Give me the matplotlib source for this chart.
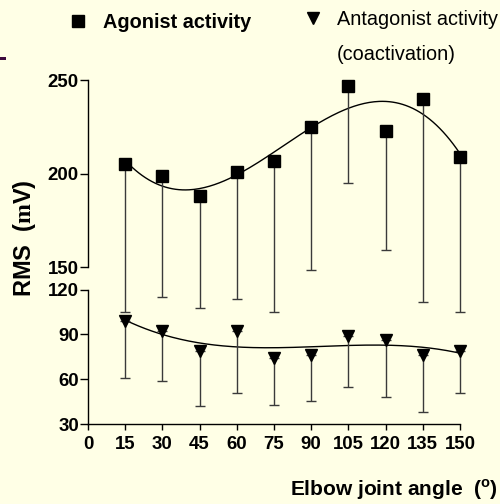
import numpy as np
import matplotlib
matplotlib.use("Agg")
import matplotlib.pyplot as plt
from matplotlib.patches import Rectangle

# Elbow angle (deg) and RMS EMG values
angles = [15, 30, 45, 60, 75, 90, 105, 120, 135, 150]
agonist = [205, 199, 188, 201, 207, 225, 247, 223, 240, 209]
agonist_sd = [100, 84, 80, 87, 102, 79, 52, 64, 128, 104]
antagonist = [99, 92, 79, 92, 74, 76.5, 89, 86, 76, 79]
antagonist_sd = [38, 33, 37, 41, 31, 31, 34, 38, 38, 28]

series_names = ["Agonist activity", "Antagonist activity\n(coactivation)"]
x_ticks = [0, 15, 30, 45, 60, 75, 90, 105, 120, 135, 150]
y_ticks = [30, 60, 90, 120, 150, 200, 250]

BG = "#FFFFE6"
plt.rcParams["font.family"] = ["Liberation Sans", "DejaVu Sans"]
plt.rcParams["mathtext.fontset"] = "custom"
plt.rcParams["mathtext.rm"] = "Liberation Serif:bold"
plt.rcParams["mathtext.sf"] = "Liberation Sans:bold"

# broken y axis: 30-120 lower segment, gap, 150-250 upper segment
BRK = np.array([30.0, 120.0, 150.0, 250.0])
POS = np.array([0.0, 134.4, 156.7, 344.0])
S_LO = (POS[1] - POS[0]) / (BRK[1] - BRK[0])
S_HI = (POS[3] - POS[2]) / (BRK[3] - BRK[2])


def fwd(v):
    v = np.asarray(v, dtype=float)
    out = np.interp(v, BRK, POS)
    out = out + np.where(v < BRK[0], (v - BRK[0]) * S_LO, 0.0)
    out = out + np.where(v > BRK[-1], (v - BRK[-1]) * S_HI, 0.0)
    return out


def inv(p):
    p = np.asarray(p, dtype=float)
    out = np.interp(p, POS, BRK)
    out = out + np.where(p < POS[0], (p - POS[0]) / S_LO, 0.0)
    out = out + np.where(p > POS[-1], (p - POS[-1]) / S_HI, 0.0)
    return out


fig = plt.figure(figsize=(5, 5.04), dpi=100, facecolor=BG)
ax = fig.add_axes([0.176, 0.1587, 0.744, 0.6825], facecolor=BG)
ax.set_yscale("function", functions=(fwd, inv))

ag = ax.errorbar(angles, agonist, yerr=[agonist_sd, np.zeros(len(angles))],
                 fmt="s", ms=8, mfc="black", mec="black", ecolor="#3a3a3a",
                 elinewidth=1.0, capsize=3.6, capthick=1.0, clip_on=False,
                 zorder=3)
an = ax.errorbar(angles, antagonist, yerr=[antagonist_sd, np.zeros(len(angles))],
                 fmt="v", ms=9, mfc="black", mec="black", ecolor="#3a3a3a",
                 elinewidth=1.0, capsize=3.6, capthick=1.0, clip_on=False,
                 zorder=3)

# cubic fits through each series
xf = np.linspace(angles[0], angles[-1], 200)
ax.plot(xf, np.polyval(np.polyfit(angles, agonist, 3), xf), color="black", lw=1.0)
ax.plot(xf, np.polyval(np.polyfit(angles, antagonist, 3), xf), color="black", lw=1.0)

ax.set_xlim(0, 150)
ax.set_ylim(30, 250)
ax.set_xticks(x_ticks)
ax.set_yticks(y_ticks)
ax.yaxis.set_major_formatter(plt.FuncFormatter(lambda v, p: f"{v:.0f}"))
ax.minorticks_off()

for s in ["top", "right", "left"]:
    ax.spines[s].set_visible(False)
ax.spines["bottom"].set_linewidth(1.0)
ax.plot([0, 0], [30, 120], color="black", lw=1.0, clip_on=False)
ax.plot([0, 0], [150, 250], color="black", lw=1.0, clip_on=False)

ax.tick_params(axis="x", length=4.5, width=1.0, pad=4, labelsize=13.4)
ax.tick_params(axis="y", length=5.5, width=1.0, pad=1, labelsize=13.4)
for lab in ax.get_xticklabels() + ax.get_yticklabels():
    lab.set_fontweight("bold")

ax.set_ylabel(r"RMS  ($\mathrm{m}$V)", fontsize=17, fontweight="bold")
ax.yaxis.set_label_coords(-0.134, 0.54)
ax.set_xlabel(r"Elbow joint angle  ($^{\mathsf{o}}$)", fontsize=15,
              fontweight="bold", ha="right")
ax.xaxis.set_label_coords(1.102, -0.155)

# two legend entries side by side above the plot
LEG_FS = 14.3
leg_kw = dict(loc="upper left", frameon=False, borderpad=0, borderaxespad=0,
              handlelength=1.0, numpoints=1, fontsize=LEG_FS)
leg1 = fig.legend([ag[0]], series_names[:1], bbox_to_anchor=(68 / 500, 1 - 13 / 504),
                  handletextpad=0.75, **leg_kw)
leg1.get_texts()[0].set_fontweight("bold")
leg2 = fig.legend([an[0]], series_names[1:], bbox_to_anchor=(303 / 500, 1 - 10 / 504),
                  handletextpad=0.7, **leg_kw)
leg2.get_texts()[0].set_linespacing(2.1)
# raise the triangle key up beside the first text line (offset in points)
key = leg2.legend_handles[0]
key.set_ydata(np.asarray(key.get_ydata()) + 14.4)

# small purple mark at the left edge
fig.add_artist(Rectangle((0, 1 - 60 / 504), 6 / 500, 3 / 504,
                         transform=fig.transFigure, color="#3d0a3d", lw=0))

fig.savefig("out.png", dpi=100, facecolor=BG)
